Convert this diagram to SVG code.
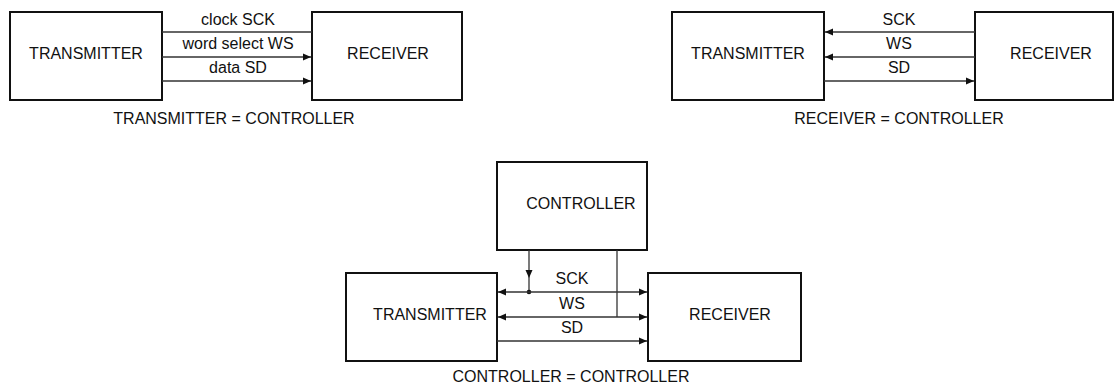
<svg xmlns="http://www.w3.org/2000/svg" width="1115" height="383" viewBox="0 0 1115 383">
<defs>
<style>
.box{fill:#fff;stroke:#111;stroke-width:2}
.ln{fill:none;stroke:#333;stroke-width:1.3}
text{font-family:"Liberation Sans",Arial,sans-serif;font-size:16px;fill:#111;text-anchor:middle}
</style>
<marker id="ah" viewBox="0 0 8 8" refX="8" refY="4" markerWidth="8" markerHeight="8" markerUnits="userSpaceOnUse" orient="auto-start-reverse">
<path d="M0,0.5 L8,4 L0,7.5 Z" fill="#111"/>
</marker>
</defs>
<rect width="1115" height="383" fill="#fff"/>
<g id="d1-transmitter"><rect class="box" x="10" y="12" width="152" height="88"/><text x="86" y="59">TRANSMITTER</text></g>
<g id="d1-receiver"><rect class="box" x="312" y="12" width="150" height="88"/><text x="388" y="59">RECEIVER</text></g>
<g id="d1-connectors">
<line class="ln" x1="162" y1="32" x2="312" y2="32"/>
<line class="ln" x1="162" y1="57" x2="311" y2="57" marker-end="url(#ah)"/>
<line class="ln" x1="162" y1="81" x2="311" y2="81" marker-end="url(#ah)"/>
<text x="238" y="25">clock SCK</text>
<text x="238" y="49">word select WS</text>
<text x="238" y="73">data SD</text>
</g>
<text x="234" y="124">TRANSMITTER = CONTROLLER</text>

<g id="d2-transmitter"><rect class="box" x="672" y="12" width="152" height="88"/><text x="748" y="59">TRANSMITTER</text></g>
<g id="d2-receiver"><rect class="box" x="975" y="12" width="138" height="88"/><text x="1051" y="59">RECEIVER</text></g>
<g id="d2-connectors">
<line class="ln" x1="825" y1="32" x2="975" y2="32" marker-start="url(#ah)"/>
<line class="ln" x1="825" y1="57" x2="975" y2="57" marker-start="url(#ah)"/>
<line class="ln" x1="824" y1="81" x2="974" y2="81" marker-end="url(#ah)"/>
<text x="899" y="25">SCK</text>
<text x="899" y="49">WS</text>
<text x="899" y="73">SD</text>
</g>
<text x="899" y="124">RECEIVER = CONTROLLER</text>

<g id="d3-controller"><rect class="box" x="497" y="162" width="150" height="88"/><text x="581" y="209">CONTROLLER</text></g>
<g id="d3-transmitter"><rect class="box" x="346" y="273" width="151" height="88"/><text x="430" y="320">TRANSMITTER</text></g>
<g id="d3-receiver"><rect class="box" x="648" y="273" width="153" height="88"/><text x="730" y="320">RECEIVER</text></g>
<g id="d3-connectors">
<line class="ln" x1="529" y1="250" x2="529" y2="278" marker-end="url(#ah)"/>
<line class="ln" x1="529" y1="278" x2="529" y2="292"/>
<circle cx="529" cy="292" r="2.3" fill="#111"/>
<line class="ln" x1="617" y1="250" x2="617" y2="317"/>
<line class="ln" x1="498" y1="292" x2="647" y2="292" marker-start="url(#ah)" marker-end="url(#ah)"/>
<line class="ln" x1="498" y1="317" x2="647" y2="317" marker-start="url(#ah)" marker-end="url(#ah)"/>
<line class="ln" x1="497" y1="341" x2="647" y2="341" marker-end="url(#ah)"/>
<text x="572" y="284">SCK</text>
<text x="572" y="309">WS</text>
<text x="572" y="333">SD</text>
</g>
<text x="571" y="382">CONTROLLER = CONTROLLER</text>
</svg>
